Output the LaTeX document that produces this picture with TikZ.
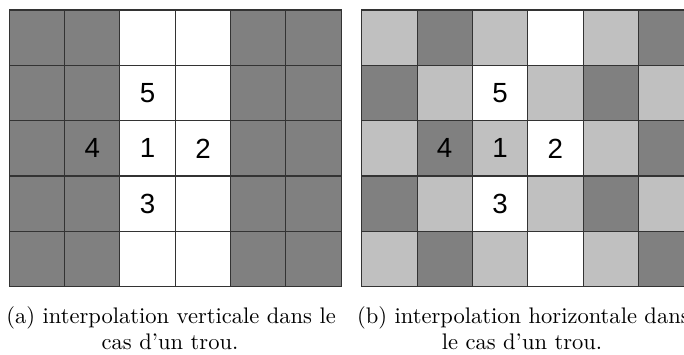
\documentclass[tikz,border=0pt]{standalone}
\usepackage{fontspec}
\newfontfamily\digitfont{Liberation Sans}
\definecolor{cD}{HTML}{808080}
\definecolor{cL}{HTML}{C0C0C0}
\definecolor{cW}{HTML}{FFFFFF}
\definecolor{gridc}{HTML}{333333}
\tikzset{
  cellbox/.style={draw=gridc, line width=0.45pt},
  digit/.style={font=\digitfont\fontsize{12.3}{14}\selectfont, inner sep=0pt},
  captext/.style={font=\fontsize{10}{12}\selectfont, inner sep=0pt}
}
\begin{document}
\begin{tikzpicture}[x=0.444pt,y=-0.444pt]
\useasboundingbox (0,0) rectangle (684,354);
\def\cs{55.33}
% grid (a)
\foreach [count=\r from 0] \rowlist in {{D,D,W,W,D,D},{D,D,W,W,D,D},{D,D,W,W,D,D},{D,D,W,W,D,D},{D,D,W,W,D,D}}{
  \foreach [count=\c from 0] \k in \rowlist {
    \filldraw[cellbox, fill=c\k] ({9.3+\c*\cs},{10+\r*\cs}) rectangle ++(\cs,\cs);
  }
}
% grid (b)
\begin{scope}
\clip (0,0) rectangle (684,354);
\foreach [count=\r from 0] \rowlist in {{L,D,L,W,L,D},{D,L,W,L,D,L},{L,D,L,W,L,D},{D,L,W,L,D,L},{L,D,L,W,L,D}}{
  \foreach [count=\c from 0] \k in \rowlist {
    \filldraw[cellbox, fill=c\k] ({361.7+\c*\cs},{10+\r*\cs}) rectangle ++(\cs,\cs);
  }
}
\end{scope}
% digits (a)
\node[digit] (a5) at ({9.3+2.5*\cs},{10+1.5*\cs}) {5};
\node[digit] (a4) at ({9.3+1.5*\cs},{10+2.5*\cs}) {4};
\node[digit] (a1) at ({9.3+2.5*\cs},{10+2.5*\cs}) {1};
\node[digit] (a2) at ({9.3+3.5*\cs},{10+2.5*\cs}) {2};
\node[digit] (a3) at ({9.3+2.5*\cs},{10+3.5*\cs}) {3};
% digits (b)
\node[digit] (b5) at ({361.7+2.5*\cs},{10+1.5*\cs}) {5};
\node[digit] (b4) at ({361.7+1.5*\cs},{10+2.5*\cs}) {4};
\node[digit] (b1) at ({361.7+2.5*\cs},{10+2.5*\cs}) {1};
\node[digit] (b2) at ({361.7+3.5*\cs},{10+2.5*\cs}) {2};
\node[digit] (b3) at ({361.7+2.5*\cs},{10+3.5*\cs}) {3};
% captions
\node[captext, anchor=base west] (capa1) at (6,323) {(a) interpolation verticale dans le};
\node[captext, anchor=base] (capa2) at (170,349) {cas d'un trou.};
\begin{scope}
\clip (0,0) rectangle (684,354);
\node[captext, anchor=base west] (capb1) at (356.7,323) {(b) interpolation horizontale dans};
\end{scope}
\node[captext, anchor=base] (capb2) at (522,349) {le cas d'un trou.};
\end{tikzpicture}
\end{document}
